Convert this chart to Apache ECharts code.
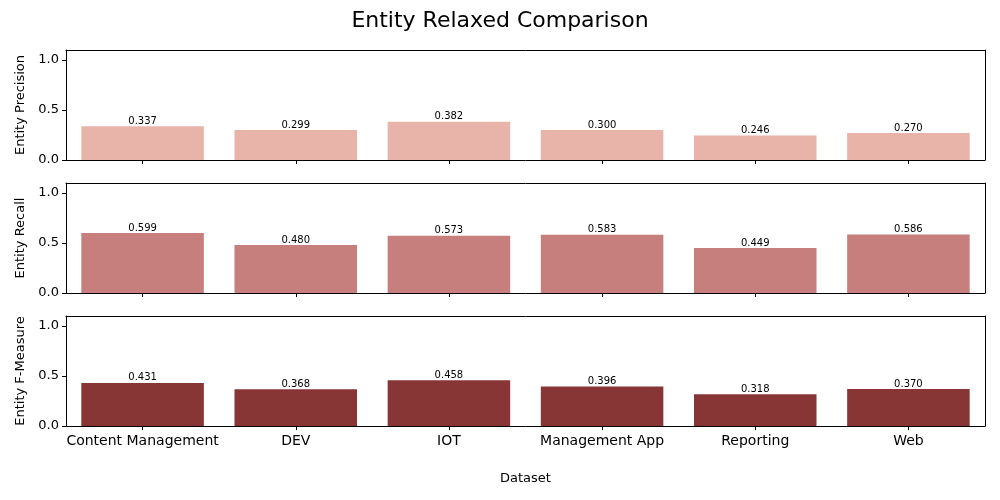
<!DOCTYPE html>
<html>
<head>
<meta charset="utf-8">
<script src="https://cdn.jsdelivr.net/npm/echarts@6/dist/echarts.min.js"></script>
<style>
  html, body { margin: 0; padding: 0; background: #fff; }
  #main { width: 1000px; height: 500px; }
</style>
</head>
<body>
<div id="main"></div>
<script>
var categories = ['Content Management', 'DEV', 'IOT', 'Management App', 'Reporting', 'Web'];
var precision = [0.337, 0.299, 0.382, 0.300, 0.246, 0.270];
var recall = [0.599, 0.480, 0.573, 0.583, 0.449, 0.586];
var fMeasure = [0.431, 0.368, 0.458, 0.396, 0.318, 0.370];
var yTicks = [0, 0.5, 1.0];
var panelNames = ['Entity Precision', 'Entity Recall', 'Entity F-Measure'];
var panelColors = ['#e8b3a9', '#c77f7e', '#873535'];
var panelData = [precision, recall, fMeasure];
var gridTops = [50, 183, 316];

var myChart = echarts.init(document.getElementById('main'));
var font = 'DejaVu Sans';
var black = { color: '#000', width: 1 };

var grids = [], xAxes = [], yAxes = [], series = [];
for (var i = 0; i < 3; i++) {
    var last = i === 2;
    grids.push({ left: 66, right: 15, top: gridTops[i], height: 110 });
    // bottom axis
    xAxes.push({
        type: 'category', gridIndex: i, data: categories, position: 'bottom',
        axisLine: { show: true, onZero: false, lineStyle: black },
        axisTick: { show: true, alignWithLabel: true, length: 4, lineStyle: black },
        axisLabel: { show: last, interval: 0, color: '#000', fontSize: 14, fontFamily: font, margin: 8 },
        name: last ? 'Dataset' : '', nameLocation: 'middle', nameGap: 46,
        nameTextStyle: { color: '#000', fontSize: 13, fontFamily: font }
    });
    // top frame line
    xAxes.push({
        type: 'category', gridIndex: i, data: categories, position: 'top',
        axisLine: { show: true, onZero: false, lineStyle: black },
        axisTick: { show: false }, axisLabel: { show: false }
    });
    yAxes.push({
        type: 'value', gridIndex: i, min: 0, max: 1.1, position: 'left',
        axisLine: { show: true, onZero: false, lineStyle: black },
        axisTick: { show: true, length: 4, lineStyle: black, customValues: yTicks },
        splitLine: { show: false },
        axisLabel: {
            color: '#000', fontSize: 13, fontFamily: font, margin: 7, customValues: yTicks,
            formatter: function (v) { return v.toFixed(1); }
        },
        name: panelNames[i], nameLocation: 'middle', nameGap: 39,
        nameTextStyle: { color: '#000', fontSize: 13, fontFamily: font }
    });
    // right frame line
    yAxes.push({
        type: 'value', gridIndex: i, min: 0, max: 1.1, position: 'right',
        axisLine: { show: true, onZero: false, lineStyle: black },
        axisTick: { show: false }, axisLabel: { show: false }, splitLine: { show: false }
    });
    series.push({
        type: 'bar', xAxisIndex: 2 * i, yAxisIndex: 2 * i, data: panelData[i],
        barCategoryGap: '20%',
        itemStyle: { color: panelColors[i] },
        label: {
            show: true, position: 'top', distance: 0, color: '#000',
            fontSize: 10, fontFamily: font,
            formatter: function (p) { return p.value.toFixed(3); }
        }
    });
}

myChart.setOption({
    animation: false,
    title: {
        text: 'Entity Relaxed Comparison', left: 'center', top: 5,
        textStyle: { color: '#000', fontSize: 22, fontWeight: 'normal', fontFamily: font }
    },
    grid: grids,
    xAxis: xAxes,
    yAxis: yAxes,
    series: series
});
</script>
</body>
</html>
